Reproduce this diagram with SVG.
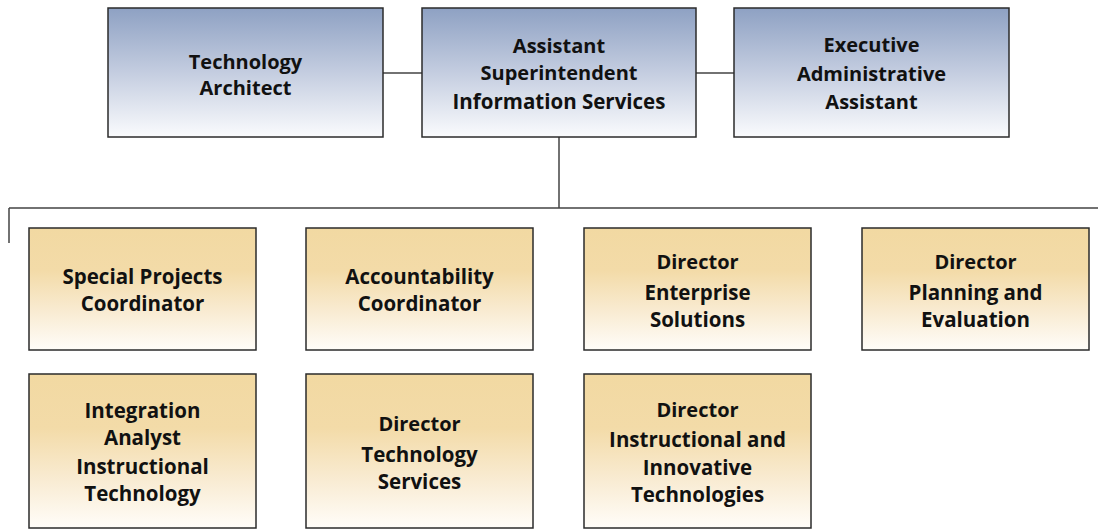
<svg xmlns="http://www.w3.org/2000/svg" width="1098" height="529" viewBox="0 0 1098 529">
<style>
.box{stroke:#2b2b2b;stroke-width:1.5}
.blue{fill:url(#gBlue)}
.gold{fill:url(#gGold)}
text{font-family:"Open Sans","Liberation Sans",sans-serif;font-size:20.5px;fill:#111;text-anchor:middle;font-weight:700}
.s{font-size:20px}
.c{stroke:#444;stroke-width:1.5;fill:none}
</style>
<defs>
<linearGradient id="gBlue" x1="0" y1="0" x2="0" y2="1">
<stop offset="0" stop-color="#8ea1c3"/>
<stop offset="0.5" stop-color="#c4cde0"/>
<stop offset="1" stop-color="#fafbfd"/>
</linearGradient>
<linearGradient id="gGold" x1="0" y1="0" x2="0" y2="1">
<stop offset="0" stop-color="#f2d9a2"/>
<stop offset="0.35" stop-color="#f3dba8"/>
<stop offset="0.7" stop-color="#f9ecd4"/>
<stop offset="1" stop-color="#fffdf9"/>
</linearGradient>
</defs>
<g id="connectors">
<path class="c" d="M383 73H422M696 73H734M559 137V208M9 208H1098M9 208V243"/>
</g>
<g id="n-tech-architect">
<rect class="box blue" x="108" y="8" width="275" height="129"/>
<text class="s" x="245.5" y="69">Technology</text>
<text class="s" x="245.5" y="95">Architect</text>
</g>
<g id="n-asst-super">
<rect class="box blue" x="422" y="8" width="274" height="129"/>
<text class="s" x="559" y="53">Assistant</text>
<text class="s" x="559" y="80">Superintendent</text>
<text x="559" y="109">Information Services</text>
</g>
<g id="n-exec-admin">
<rect class="box blue" x="734" y="8" width="275" height="129"/>
<text class="s" x="871.5" y="52">Executive</text>
<text class="s" x="871.5" y="81">Administrative</text>
<text class="s" x="871.5" y="109">Assistant</text>
</g>
<g id="n-special-projects">
<rect class="box gold" x="29" y="228" width="227" height="122"/>
<text x="142.5" y="284">Special Projects</text>
<text x="142.5" y="311">Coordinator</text>
</g>
<g id="n-accountability">
<rect class="box gold" x="306" y="228" width="227" height="122"/>
<text x="419.5" y="284">Accountability</text>
<text x="419.5" y="311">Coordinator</text>
</g>
<g id="n-enterprise">
<rect class="box gold" x="584" y="228" width="227" height="122"/>
<text class="s" x="697.5" y="269">Director</text>
<text x="697.5" y="300">Enterprise</text>
<text x="697.5" y="327">Solutions</text>
</g>
<g id="n-planning">
<rect class="box gold" x="862" y="228" width="227" height="122"/>
<text class="s" x="975.5" y="269">Director</text>
<text x="975.5" y="300">Planning and</text>
<text x="975.5" y="327">Evaluation</text>
</g>
<g id="n-integration">
<rect class="box gold" x="29" y="374" width="227" height="154"/>
<text x="142.5" y="418">Integration</text>
<text x="142.5" y="445">Analyst</text>
<text x="142.5" y="474">Instructional</text>
<text x="142.5" y="501">Technology</text>
</g>
<g id="n-tech-services">
<rect class="box gold" x="306" y="374" width="227" height="154"/>
<text class="s" x="419.5" y="431">Director</text>
<text x="419.5" y="462">Technology</text>
<text x="419.5" y="489">Services</text>
</g>
<g id="n-instructional">
<rect class="box gold" x="584" y="374" width="227" height="154"/>
<text class="s" x="697.5" y="417">Director</text>
<text x="697.5" y="447">Instructional and</text>
<text x="697.5" y="475">Innovative</text>
<text x="697.5" y="502">Technologies</text>
</g>
</svg>
